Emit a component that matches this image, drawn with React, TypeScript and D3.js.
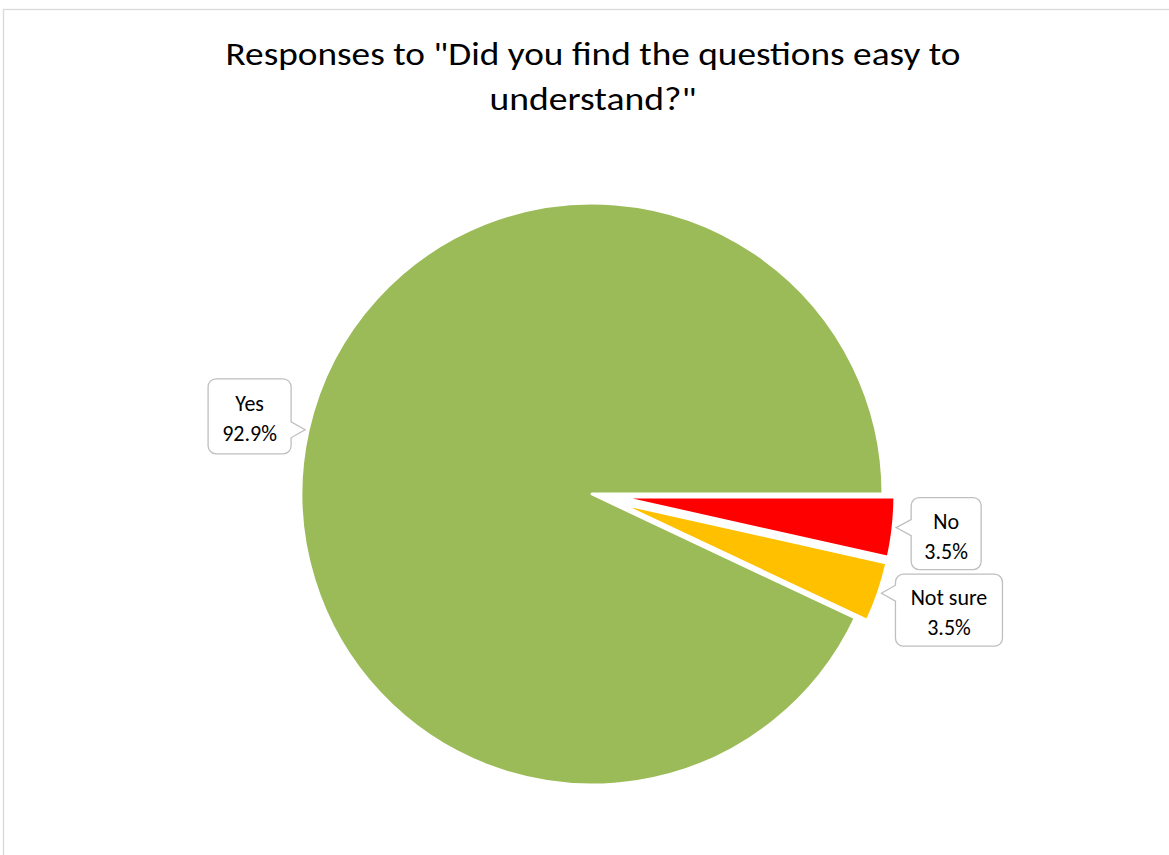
import React from "react";
import * as d3 from "d3";

const categories = ["Yes", "No", "Not sure"];
const values = [92.9, 3.5, 3.5];
const labels = ["92.9%", "3.5%", "3.5%"];
const colors = ["#9BBB59", "#FF0000", "#FFC000"];
const exploded = [false, true, true];
const titleLines = ['Responses to "Did you find the questions easy to', 'understand?"'];
const titleWidths = [735, 207];

// label box layout relative to the callout tip: [dx to box edge, dy of box center, width, height, side]
const labelLayout: [number, number, number, number, "left" | "right"][] = [
  [-14, -13.5, 83, 75, "right"],
  [15, 6, 70, 72, "left"],
  [14, 17, 107, 72, "left"],
];

const W = 1169;
const H = 855;
const FONT = "Calibri, Carlito, Lato, sans-serif";

function calloutPath(x0: number, y0: number, w: number, h: number, tip: [number, number], side: "left" | "right") {
  const r = 8;
  const x1 = x0 + w;
  const y1 = y0 + h;
  const by = Math.max(y0 + r + 8, Math.min(y1 - r - 8, tip[1]));
  const hb = 8;
  let p = `M${x0 + r},${y0} H${x1 - r} A${r},${r} 0 0 1 ${x1},${y0 + r}`;
  if (side === "right") {
    p += ` V${by - hb} L${tip[0]},${tip[1]} L${x1},${by + hb}`;
  }
  p += ` V${y1 - r} A${r},${r} 0 0 1 ${x1 - r},${y1} H${x0 + r} A${r},${r} 0 0 1 ${x0},${y1 - r}`;
  if (side === "left") {
    p += ` V${by + hb} L${tip[0]},${tip[1]} L${x0},${by - hb}`;
  }
  p += ` V${y0 + r} A${r},${r} 0 0 1 ${x0 + r},${y0} Z`;
  return p;
}

export default function App() {
  const cx = 592;
  const cy = 494;
  const R = 291;
  const Rex = 276;
  const explode = 27;
  const total = d3.sum(values);
  const start = Math.PI / 2 - (2 * Math.PI * values[0]) / total;
  const pie = d3
    .pie<number>()
    .sort(null)
    .value((d) => d)
    .startAngle(start)
    .endAngle(start + 2 * Math.PI);
  const arcs = pie(values);

  return (
    <svg width={W} height={H} style={{ position: "absolute", left: 0, top: 0, background: "#fff" }}>
      <rect x={3.5} y={9.5} width={W + 10} height={H + 10} fill="#fff" stroke="#D9D9D9" strokeWidth={1.3} />
      {titleLines.map((t, i) => (
        <text
          key={i}
          x={593}
          y={65 + i * 45}
          textAnchor="middle"
          fontFamily={FONT}
          fontSize={33}
          fill="#000"
          textLength={titleWidths[i]}
          lengthAdjust="spacingAndGlyphs"
        >
          {t}
        </text>
      ))}
      {arcs.map((a, i) => {
        const mid = (a.startAngle + a.endAngle) / 2;
        const off = exploded[i] ? explode : 0;
        const ox = cx + off * Math.sin(mid);
        const oy = cy - off * Math.cos(mid);
        const rr = exploded[i] ? Rex : R;
        const arcGen = d3.arc<d3.PieArcDatum<number>>().innerRadius(0).outerRadius(rr);
        const tip: [number, number] = [ox + (rr + 3) * Math.sin(mid), oy - (rr + 3) * Math.cos(mid)];
        const [dx, dy, w, h, side] = labelLayout[i];
        const bx = side === "right" ? tip[0] + dx - w : tip[0] + dx;
        const by = tip[1] + dy - h / 2;
        return (
          <g key={categories[i]}>
            <path
              d={arcGen(a) || ""}
              transform={`translate(${ox},${oy})`}
              fill={colors[i]}
              stroke="#fff"
              strokeWidth={3}
              strokeLinejoin="round"
            />
            <path d={calloutPath(bx, by, w, h, tip, side)} fill="#fff" stroke="#BFBFBF" strokeWidth={1.3} />
            <text x={bx + w / 2} y={by + h / 2 - 5} textAnchor="middle" fontFamily={FONT} fontSize={22} fill="#000">
              {categories[i]}
            </text>
            <text x={bx + w / 2} y={by + h / 2 + 25} textAnchor="middle" fontFamily={FONT} fontSize={22} fill="#000">
              {labels[i]}
            </text>
          </g>
        );
      })}
    </svg>
  );
}
